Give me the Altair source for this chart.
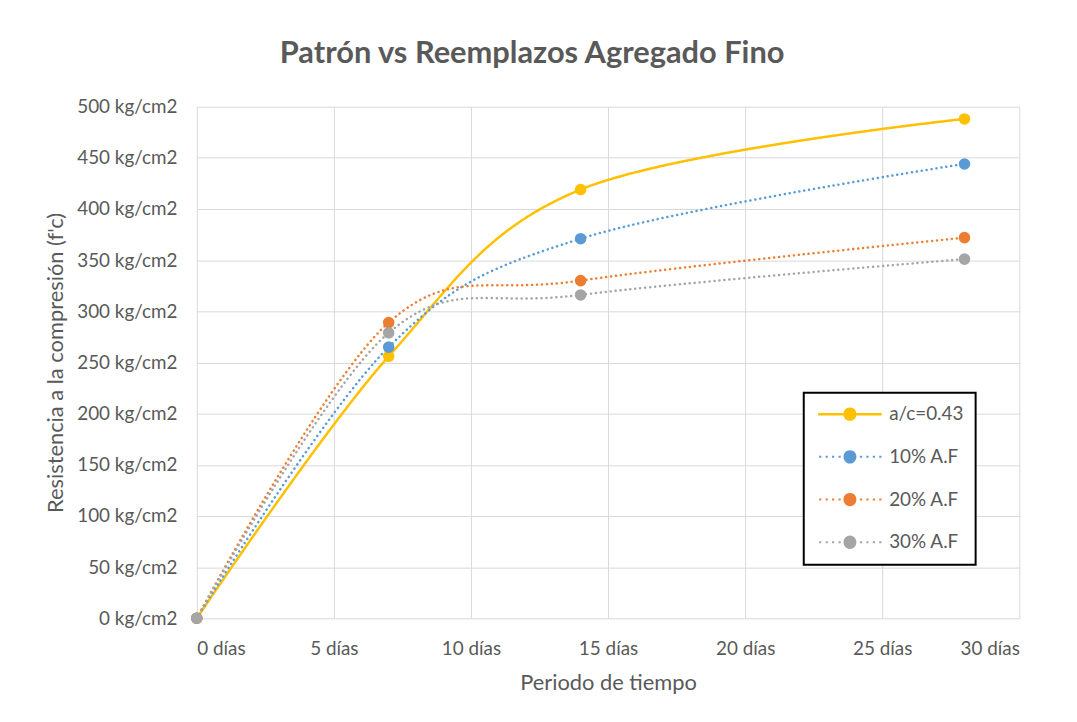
import altair as alt
import pandas as pd

dias = [0, 7, 14, 28]
series = ["a/c=0.43", "10% A.F", "20% A.F", "30% A.F"]
patron = [0, 256, 419, 488]
af10 = [0, 265, 371, 444]
af20 = [0, 289, 330, 372]
af30 = [0, 279, 316, 351]
colors = ["#FFC000", "#5B9BD5", "#ED7D31", "#A5A5A5"]
y_ticks = [0, 50, 100, 150, 200, 250, 300, 350, 400, 450, 500]
x_ticks = [0, 5, 10, 15, 20, 25, 30]

rows = []
for name, vals in zip(series, [patron, af10, af20, af30]):
    for d, v in zip(dias, vals):
        rows.append({"dias": d, "valor": v, "serie": name})
df = pd.DataFrame(rows)

# legend symbol paths (line + dot); symbol size 196 -> 7 px per path unit
U = 7.0
def u(px):
    return px / U
L0, L1 = u(-7), u(57)          # line extent relative to symbol centre
CX = u(25)                     # dot centre
R = u(6.5)
T = u(1.25)
circle = f"M{CX - R:.3f},0A{R:.3f},{R:.3f} 0 1,1 {CX + R:.3f},0A{R:.3f},{R:.3f} 0 1,1 {CX - R:.3f},0Z"
solid = (f"M{L0:.3f},{-T:.3f}H{CX - R:.3f}V{T:.3f}H{L0:.3f}Z "
         f"M{CX + R:.3f},{-T:.3f}H{L1:.3f}V{T:.3f}H{CX + R:.3f}Z " + circle)
dots = []
for k in range(4):
    x0 = -6 + k * 6.5
    dots.append(f"M{u(x0):.3f},{-u(1):.3f}h{u(2.2):.3f}v{u(2):.3f}h{-u(2.2):.3f}Z")
    x1 = 35 + k * 6.5
    dots.append(f"M{u(x1):.3f},{-u(1):.3f}h{u(2.2):.3f}v{u(2):.3f}h{-u(2.2):.3f}Z")
dotted = " ".join(dots) + " " + circle
shapes = [solid, dotted, dotted, dotted]

FONT = "Lato"
TXT = "#595959"

color_scale = alt.Scale(domain=series, range=colors)
x_enc = alt.X("dias:Q", scale=alt.Scale(domain=[0, 30]),
              axis=alt.Axis(values=x_ticks, labelExpr="datum.value + ' días'",
                            title="Periodo de tiempo"))
y_enc = alt.Y("valor:Q", scale=alt.Scale(domain=[0, 500]),
              axis=alt.Axis(values=y_ticks, labelExpr="datum.value + ' kg/cm2'",
                            title="Resistencia a la compresión (f'c)"))

base = alt.Chart(df)

lines = base.mark_line(interpolate="cardinal", strokeWidth=2.5, strokeCap="round").encode(
    x=x_enc, y=y_enc,
    color=alt.Color("serie:N", scale=color_scale, legend=None),
    strokeDash=alt.StrokeDash("serie:N", scale=alt.Scale(domain=series,
                              range=[[1, 0], [0.1, 4.9], [0.1, 4.9], [0.1, 4.9]]), legend=None),
    detail="serie:N",
)

points = base.mark_point(filled=True, size=135, opacity=1).encode(
    x=x_enc, y=y_enc,
    color=alt.Color("serie:N", scale=color_scale, legend=None),
)

legend_layer = base.transform_filter("false").mark_point(filled=True, opacity=1).encode(
    x=x_enc, y=y_enc,
    color=alt.Color("serie:N", scale=color_scale,
                    legend=alt.Legend(title=None, orient="none", legendX=611, legendY=288,
                                      strokeColor="black", fillColor="white", padding=12,
                                      symbolSize=196, rowPadding=23, labelOffset=55,
                                      labelFontSize=19, labelColor=TXT, labelFont=FONT,
                                      symbolStrokeWidth=0)),
    shape=alt.Shape("serie:N", scale=alt.Scale(domain=series, range=shapes),
                    legend=alt.Legend(title=None)),
)

chart = alt.layer(lines, points, legend_layer).resolve_legend(
    color="independent", shape="independent", strokeDash="independent"
).properties(
    width=828, height=515,
    autosize=alt.AutoSizeParams(type="none"),
    padding={"left": 190, "top": 97, "right": 50, "bottom": 90},
    title=alt.TitleParams("Patrón vs Reemplazos Agregado Fino", font=FONT, fontSize=31,
                          fontWeight="bold", color=TXT, anchor="middle", frame="bounds",
                          offset=28),
).configure_view(stroke=None).configure_axis(
    grid=True, gridColor="#D9D9D9", gridWidth=1, domain=False, ticks=False,
    labelFont=FONT, labelFontSize=19, labelColor=TXT,
    titleFont=FONT, titleFontSize=22, titleColor=TXT, titleFontWeight="normal",
).configure_axisY(labelPadding=20, titlePadding=9).configure_axisX(
    labelPadding=21, titlePadding=15
).configure_legend(strokeWidth=2)

chart.save("out.html", embed_options={"renderer": "svg", "actions": False})
